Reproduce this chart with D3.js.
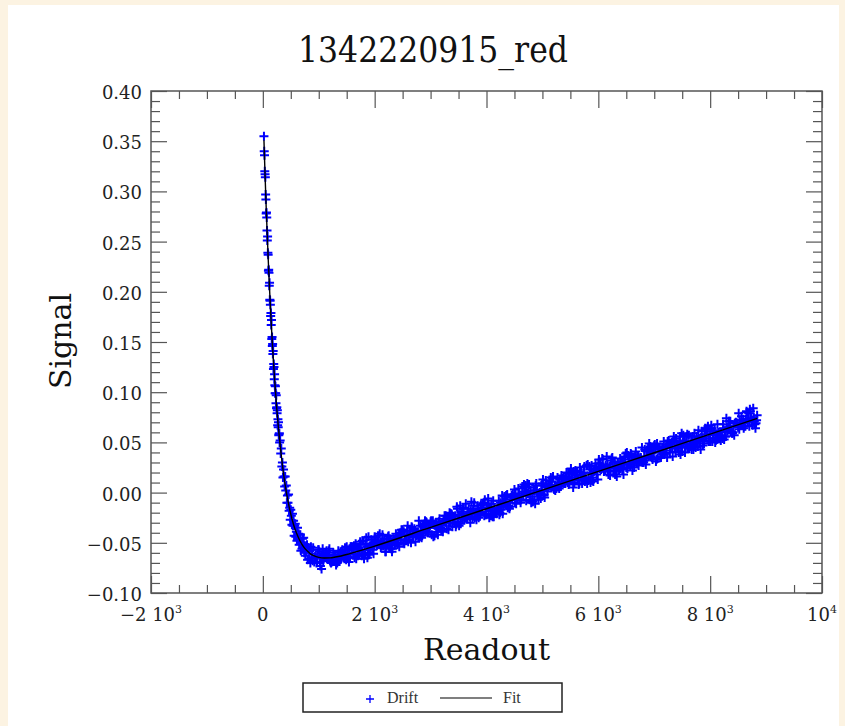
<!DOCTYPE html>
<html>
<head>
<meta charset="utf-8">
<script src="https://cdn.jsdelivr.net/npm/d3@7"></script>
<style>
  body { margin: 0; background: #fcf3e2; }
  svg { display: block; }
</style>
</head>
<body>
<svg id="chart" width="845" height="726"></svg>
<script>
// Drift measurements: readout number and signal
const readout = [
  20,25,30,35,40,45,50,55,60,65,
  70,75,80,85,90,95,100,105,110,115,
  120,125,130,135,140,145,150,155,160,165,
  170,175,180,185,190,195,200,205,210,215,
  220,225,230,235,240,245,250,255,260,265,
  270,275,280,285,290,295,300,
  310,320,330,340,350,360,370,380,390,400,
  410,420,430,440,450,460,470,480,490,500,
  510,520,530,540,550,560,570,580,590,600,
  610,620,630,640,650,660,670,680,690,700,
  710,720,730,740,750,760,770,780,790,800,
  810,820,830,840,850,860,870,880,890,900,
  920,940,960,980,1000,1020,1040,1060,1080,1100,
  1120,1140,1160,1180,1200,1220,1240,1260,1280,1300,
  1320,1340,1360,1380,1400,1420,1440,1460,1480,1500,
  1520,1540,1560,1580,1600,1620,1640,1660,1680,1700,
  1720,1740,1760,1780,1800,1820,1840,1860,1880,1900,
  1920,1940,1960,1980,2000,2020,2040,2060,2080,2100,
  2120,2140,2160,2180,2200,2220,2240,2260,2280,2300,
  2320,2340,2360,2380,2400,2420,2440,2460,2480,2500,
  2520,2540,2560,2580,2600,2620,2640,2660,2680,2700,
  2720,2740,2760,2780,2800,2820,2840,2860,2880,2900,
  2920,2940,2960,2980,3000,3020,3040,3060,3080,3100,
  3120,3140,3160,3180,3200,3220,3240,3260,3280,3300,
  3320,3340,3360,3380,3400,3420,3440,3460,3480,3500,
  3520,3540,3560,3580,3600,3620,3640,3660,3680,3700,
  3720,3740,3760,3780,3800,3820,3840,3860,3880,3900,
  3920,3940,3960,3980,4000,4020,4040,4060,4080,4100,
  4120,4140,4160,4180,4200,4220,4240,4260,4280,4300,
  4320,4340,4360,4380,4400,4420,4440,4460,4480,4500,
  4520,4540,4560,4580,4600,4620,4640,4660,4680,4700,
  4720,4740,4760,4780,4800,4820,4840,4860,4880,4900,
  4920,4940,4960,4980,5000,5020,5040,5060,5080,5100,
  5120,5140,5160,5180,5200,5220,5240,5260,5280,5300,
  5320,5340,5360,5380,5400,5420,5440,5460,5480,5500,
  5520,5540,5560,5580,5600,5620,5640,5660,5680,5700,
  5720,5740,5760,5780,5800,5820,5840,5860,5880,5900,
  5920,5940,5960,5980,6000,6020,6040,6060,6080,6100,
  6120,6140,6160,6180,6200,6220,6240,6260,6280,6300,
  6320,6340,6360,6380,6400,6420,6440,6460,6480,6500,
  6520,6540,6560,6580,6600,6620,6640,6660,6680,6700,
  6720,6740,6760,6780,6800,6820,6840,6860,6880,6900,
  6920,6940,6960,6980,7000,7020,7040,7060,7080,7100,
  7120,7140,7160,7180,7200,7220,7240,7260,7280,7300,
  7320,7340,7360,7380,7400,7420,7440,7460,7480,7500,
  7520,7540,7560,7580,7600,7620,7640,7660,7680,7700,
  7720,7740,7760,7780,7800,7820,7840,7860,7880,7900,
  7920,7940,7960,7980,8000,8020,8040,8060,8080,8100,
  8120,8140,8160,8180,8200,8220,8240,8260,8280,8300,
  8320,8340,8360,8380,8400,8420,8440,8460,8480,8500,
  8520,8540,8560,8580,8600,8620,8640,8660,8680,8700,
  8720,8740,8760,8780,8800,8820,8840
];

const drift = [
  0.355,0.340,0.336,0.320,0.317,0.314,0.297,0.292,0.278,0.279,
  0.274,0.261,0.251,0.255,0.239,0.237,0.221,0.222,0.219,0.206,
  0.209,0.192,0.191,0.187,0.176,0.179,0.167,0.172,0.153,0.155,
  0.146,0.148,0.138,0.141,0.123,0.128,0.125,0.113,0.118,0.107,
  0.099,0.106,0.099,0.089,0.097,0.084,0.085,0.079,0.082,0.067,
  0.073,0.065,0.070,0.057,0.058,0.059,0.050,
  0.052,0.039,0.044,0.026,0.030,0.015,0.023,0.016,0.006,0.016,
  0.002,0.007,-0.010,-0.003,-0.010,-0.002,-0.018,-0.015,-0.027,-0.017,
  -0.023,-0.032,-0.021,-0.033,-0.028,-0.043,-0.033,-0.031,-0.044,-0.039,
  -0.048,-0.035,-0.046,-0.041,-0.052,-0.045,-0.042,-0.058,-0.050,-0.056,
  -0.046,-0.055,-0.045,-0.060,-0.053,-0.063,-0.055,-0.058,-0.052,-0.067,
  -0.055,-0.055,-0.066,-0.058,-0.070,-0.054,-0.065,-0.061,-0.068,-0.055,
  -0.069,-0.064,-0.070,-0.063,-0.057,-0.070,-0.064,-0.065,-0.068,-0.065,
  -0.060,-0.058,-0.062,-0.058,-0.068,-0.070,-0.068,-0.060,-0.066,-0.063,
  -0.069,-0.063,-0.066,-0.066,-0.066,-0.057,-0.065,-0.066,-0.058,-0.054,
  -0.060,-0.069,-0.065,-0.054,-0.054,-0.061,-0.065,-0.051,-0.055,-0.063,
  -0.055,-0.049,-0.058,-0.048,-0.048,-0.057,-0.051,-0.054,-0.060,-0.062,
  -0.053,-0.047,-0.057,-0.061,-0.044,-0.048,-0.053,-0.043,-0.052,-0.051,
  -0.049,-0.042,-0.053,-0.051,-0.059,-0.046,-0.044,-0.055,-0.047,-0.050,
  -0.056,-0.046,-0.052,-0.041,-0.045,-0.050,-0.054,-0.040,-0.037,-0.037,
  -0.039,-0.042,-0.048,-0.038,-0.049,-0.043,-0.041,-0.034,-0.044,-0.038,
  -0.041,-0.040,-0.042,-0.044,-0.043,-0.033,-0.045,-0.034,-0.032,-0.028,
  -0.029,-0.039,-0.040,-0.035,-0.029,-0.042,-0.028,-0.032,-0.032,-0.039,
  -0.034,-0.036,-0.026,-0.035,-0.033,-0.039,-0.028,-0.028,-0.030,-0.025,
  -0.037,-0.020,-0.030,-0.022,-0.026,-0.026,-0.023,-0.032,-0.016,-0.022,
  -0.022,-0.031,-0.021,-0.016,-0.026,-0.025,-0.023,-0.026,-0.016,-0.024,
  -0.018,-0.021,-0.018,-0.010,-0.021,-0.027,-0.013,-0.025,-0.022,-0.012,
  -0.019,-0.011,-0.023,-0.022,-0.022,-0.012,-0.016,-0.014,-0.023,-0.018,
  -0.008,-0.015,-0.019,-0.021,-0.016,-0.008,-0.020,-0.017,-0.003,-0.013,
  -0.004,-0.009,-0.013,-0.015,-0.013,-0.014,-0.005,-0.005,-0.004,0.003,
  -0.002,-0.005,-0.005,-0.001,-0.007,-0.007,0.006,-0.003,0.005,0.007,
  0.000,-0.001,0.008,-0.002,-0.010,-0.004,0.005,-0.007,0.007,0.002,
  -0.001,-0.001,-0.003,0.007,0.009,-0.003,-0.005,0.012,0.008,0.005,
  0.007,0.007,0.006,0.014,0.004,0.005,0.006,0.006,0.010,0.004,
  0.006,0.017,0.010,0.016,0.013,0.014,0.012,0.019,0.009,0.012,
  0.012,0.019,0.021,0.017,0.018,0.020,0.012,0.009,0.017,0.017,
  0.012,0.020,0.011,0.013,0.009,0.012,0.026,0.010,0.027,0.015,
  0.021,0.023,0.024,0.022,0.029,0.024,0.026,0.026,0.033,0.021,
  0.023,0.025,0.028,0.018,0.025,0.026,0.034,0.030,0.022,0.018,
  0.025,0.027,0.026,0.025,0.024,0.030,0.030,0.028,0.035,0.025,
  0.024,0.028,0.029,0.039,0.030,0.035,0.025,0.037,0.030,0.037,
  0.027,0.032,0.035,0.045,0.031,0.036,0.032,0.034,0.042,0.037,
  0.043,0.036,0.039,0.041,0.047,0.045,0.033,0.034,0.044,0.045,
  0.035,0.045,0.042,0.038,0.045,0.046,0.051,0.052,0.040,0.049,
  0.045,0.052,0.052,0.041,0.048,0.044,0.040,0.056,0.045,0.041,
  0.057,0.052,0.046,0.056,0.045,0.057,0.046,0.051,0.049,0.043,
  0.059,0.045,0.056,0.046,0.054,0.051,0.055,0.053,0.052,0.058,
  0.061,0.063,0.066,0.054,0.059,0.067,0.051,0.057,0.062,0.052,
  0.053,0.055,0.055,0.060,0.060,0.054,0.064,0.061,0.056,0.065,
  0.063,0.071,0.071,0.061,0.059,0.066,0.069,0.070,0.069,0.065,
  0.063,0.067,0.076,0.069,0.064,0.070,0.073,0.080,0.073,0.066,
  0.081,0.072,0.067,0.075,0.068,0.069,0.077
];

// Interleaved readouts (odd tens) after the minimum
const readoutB = [
  930,950,970,990,1010,1030,1050,1070,1090,1110,
  1130,1150,1170,1190,1210,1230,1250,1270,1290,1310,
  1330,1350,1370,1390,1410,1430,1450,1470,1490,1510,
  1530,1550,1570,1590,1610,1630,1650,1670,1690,1710,
  1730,1750,1770,1790,1810,1830,1850,1870,1890,1910,
  1930,1950,1970,1990,2010,2030,2050,2070,2090,2110,
  2130,2150,2170,2190,2210,2230,2250,2270,2290,2310,
  2330,2350,2370,2390,2410,2430,2450,2470,2490,2510,
  2530,2550,2570,2590,2610,2630,2650,2670,2690,2710,
  2730,2750,2770,2790,2810,2830,2850,2870,2890,2910,
  2930,2950,2970,2990,3010,3030,3050,3070,3090,3110,
  3130,3150,3170,3190,3210,3230,3250,3270,3290,3310,
  3330,3350,3370,3390,3410,3430,3450,3470,3490,3510,
  3530,3550,3570,3590,3610,3630,3650,3670,3690,3710,
  3730,3750,3770,3790,3810,3830,3850,3870,3890,3910,
  3930,3950,3970,3990,4010,4030,4050,4070,4090,4110,
  4130,4150,4170,4190,4210,4230,4250,4270,4290,4310,
  4330,4350,4370,4390,4410,4430,4450,4470,4490,4510,
  4530,4550,4570,4590,4610,4630,4650,4670,4690,4710,
  4730,4750,4770,4790,4810,4830,4850,4870,4890,4910,
  4930,4950,4970,4990,5010,5030,5050,5070,5090,5110,
  5130,5150,5170,5190,5210,5230,5250,5270,5290,5310,
  5330,5350,5370,5390,5410,5430,5450,5470,5490,5510,
  5530,5550,5570,5590,5610,5630,5650,5670,5690,5710,
  5730,5750,5770,5790,5810,5830,5850,5870,5890,5910,
  5930,5950,5970,5990,6010,6030,6050,6070,6090,6110,
  6130,6150,6170,6190,6210,6230,6250,6270,6290,6310,
  6330,6350,6370,6390,6410,6430,6450,6470,6490,6510,
  6530,6550,6570,6590,6610,6630,6650,6670,6690,6710,
  6730,6750,6770,6790,6810,6830,6850,6870,6890,6910,
  6930,6950,6970,6990,7010,7030,7050,7070,7090,7110,
  7130,7150,7170,7190,7210,7230,7250,7270,7290,7310,
  7330,7350,7370,7390,7410,7430,7450,7470,7490,7510,
  7530,7550,7570,7590,7610,7630,7650,7670,7690,7710,
  7730,7750,7770,7790,7810,7830,7850,7870,7890,7910,
  7930,7950,7970,7990,8010,8030,8050,8070,8090,8110,
  8130,8150,8170,8190,8210,8230,8250,8270,8290,8310,
  8330,8350,8370,8390,8410,8430,8450,8470,8490,8510,
  8530,8550,8570,8590,8610,8630,8650,8670,8690,8710,
  8730,8750,8770,8790,8810,8830
];

const driftB = [
  -0.064,-0.065,-0.069,-0.057,-0.059,-0.073,-0.076,-0.056,-0.061,-0.065,
  -0.063,-0.063,-0.065,-0.056,-0.069,-0.069,-0.067,-0.066,-0.062,-0.072,
  -0.070,-0.058,-0.065,-0.059,-0.062,-0.060,-0.063,-0.055,-0.067,-0.065,
  -0.064,-0.056,-0.054,-0.057,-0.055,-0.053,-0.062,-0.066,-0.056,-0.056,
  -0.062,-0.052,-0.063,-0.061,-0.066,-0.062,-0.045,-0.065,-0.044,-0.061,
  -0.055,-0.052,-0.050,-0.053,-0.045,-0.051,-0.048,-0.048,-0.041,-0.055,
  -0.053,-0.051,-0.046,-0.059,-0.053,-0.051,-0.043,-0.046,-0.056,-0.059,
  -0.049,-0.047,-0.048,-0.050,-0.052,-0.043,-0.043,-0.047,-0.038,-0.050,
  -0.051,-0.047,-0.047,-0.033,-0.044,-0.038,-0.050,-0.035,-0.044,-0.036,
  -0.049,-0.043,-0.039,-0.028,-0.044,-0.038,-0.043,-0.041,-0.031,-0.038,
  -0.030,-0.040,-0.035,-0.033,-0.028,-0.029,-0.044,-0.043,-0.030,-0.030,
  -0.042,-0.029,-0.035,-0.038,-0.030,-0.029,-0.023,-0.023,-0.036,-0.024,
  -0.030,-0.021,-0.021,-0.034,-0.024,-0.030,-0.034,-0.014,-0.029,-0.033,
  -0.013,-0.019,-0.027,-0.015,-0.026,-0.011,-0.026,-0.019,-0.021,-0.030,
  -0.009,-0.026,-0.013,-0.025,-0.019,-0.022,-0.016,-0.020,-0.021,-0.015,
  -0.012,-0.010,-0.007,-0.021,-0.015,-0.006,-0.025,-0.018,-0.011,-0.024,
  -0.024,-0.020,-0.020,-0.016,-0.015,-0.022,-0.010,-0.014,-0.021,-0.009,
  -0.011,-0.003,-0.002,-0.014,-0.016,-0.007,-0.003,-0.002,-0.004,-0.010,
  -0.011,-0.007,0.004,-0.004,-0.010,-0.003,0.001,0.008,0.000,-0.008,
  0.009,-0.001,-0.007,0.002,-0.009,-0.009,0.002,-0.011,0.009,-0.001,
  -0.007,0.000,-0.006,0.002,0.013,-0.002,0.006,0.005,0.001,0.006,
  0.012,0.015,0.011,0.016,0.003,0.002,0.004,0.015,0.007,0.013,
  0.006,0.014,0.010,0.009,0.009,0.020,0.010,0.008,0.019,0.024,
  0.015,0.005,0.010,0.022,0.021,0.013,0.008,0.025,0.020,0.009,
  0.019,0.026,0.014,0.027,0.028,0.015,0.023,0.020,0.012,0.011,
  0.023,0.029,0.018,0.013,0.033,0.029,0.023,0.034,0.024,0.024,
  0.027,0.036,0.021,0.024,0.017,0.032,0.035,0.021,0.031,0.025,
  0.016,0.030,0.022,0.034,0.031,0.023,0.018,0.036,0.039,0.040,
  0.037,0.033,0.026,0.038,0.022,0.030,0.032,0.041,0.029,0.036,
  0.033,0.035,0.031,0.030,0.030,0.043,0.028,0.041,0.044,0.049,
  0.046,0.035,0.033,0.040,0.048,0.031,0.049,0.045,0.043,0.036,
  0.040,0.038,0.051,0.039,0.042,0.035,0.048,0.049,0.045,0.050,
  0.036,0.056,0.044,0.054,0.046,0.047,0.051,0.038,0.059,0.050,
  0.051,0.040,0.051,0.058,0.044,0.044,0.047,0.043,0.056,0.046,
  0.052,0.049,0.053,0.062,0.052,0.043,0.061,0.047,0.049,0.064,
  0.056,0.064,0.051,0.051,0.051,0.064,0.058,0.061,0.050,0.055,
  0.068,0.060,0.054,0.052,0.057,0.068,0.053,0.056,0.074,0.061,
  0.071,0.066,0.060,0.059,0.060,0.057,0.069,0.069,0.069,0.079,
  0.072,0.069,0.069,0.073,0.066,0.066,0.081,0.071,0.079,0.083,
  0.074,0.072,0.084,0.071,0.064,0.072
];

// Fitted drift model, sampled along the readout axis
const fitReadout = [20,40,60,80,100,125,150,175,200,225,250,275,300,330,360,400,450,500,550,600,
  650,700,750,800,850,900,1000,1100,1200,1300,1400,1500,1600,1800,2000,3000,4000,5000,6000,7000,8000,8840];
const fitSignal = [0.351,0.316,0.284,0.255,0.228,0.197,0.169,0.144,0.122,0.1015,0.083,0.067,0.0525,0.037,0.023,
  0.0075,-0.0085,-0.0215,-0.032,-0.040,-0.0464,-0.0515,-0.0555,-0.0585,-0.061,-0.0625,-0.0645,-0.0651,-0.065,
  -0.0642,-0.0631,-0.0617,-0.0601,-0.0568,-0.0533,-0.0347,-0.0161,0.0025,0.0211,0.0397,0.0583,0.0739];

// Axis ticks and their labels
const xMajor = [-2000, 0, 2000, 4000, 6000, 8000, 10000];
const xLabelBase = ["\u22122 10", "0", "2 10", "4 10", "6 10", "8 10", "10"];
const xLabelExp = ["3", "", "3", "3", "3", "3", "4"];
const yMajor = [-0.10, -0.05, 0.00, 0.05, 0.10, 0.15, 0.20, 0.25, 0.30, 0.35, 0.40];
const yLabels = ["\u22120.10", "\u22120.05", "0.00", "0.05", "0.10", "0.15", "0.20", "0.25", "0.30", "0.35", "0.40"];

const titleText = "1342220915_red";
const xTitle = "Readout";
const yTitle = "Signal";
const legendNames = ["Drift", "Fit"];

const W = 845, H = 726;
const plot = { left: 151, right: 822, top: 91, bottom: 593 };
const serif = "'DejaVu Serif', serif";
const axisColor = "#555";
const pointColor = "#0000ff";

const svg = d3.select("#chart");

svg.append("rect").attr("width", W).attr("height", H).attr("fill", "#fcf3e2");
svg.append("rect").attr("x", 8).attr("y", 5).attr("width", 831).attr("height", H - 5).attr("fill", "#ffffff");

const x = d3.scaleLinear().domain([-2000, 10000]).range([plot.left, plot.right]);
const y = d3.scaleLinear().domain([-0.10, 0.40]).range([plot.bottom, plot.top]);

const xMinor = d3.range(-2000, 10001, 500).filter(v => !xMajor.includes(v));
const yMinor = d3.range(-10, 41, 1).map(v => v / 100).filter(v => Math.round(v * 1000) % 50 !== 0);

function styleAxis(g) {
  g.select(".domain").remove();
  g.selectAll(".tick line").attr("stroke", axisColor).attr("stroke-width", 1.2);
  g.selectAll(".tick text").remove();
}

// inward-pointing ticks on all four sides
[[xMajor, 17], [xMinor, 8]].forEach(([vals, len]) => {
  svg.append("g").attr("transform", `translate(0,${plot.bottom})`)
    .call(d3.axisBottom(x).tickValues(vals).tickSize(-len)).call(styleAxis);
  svg.append("g").attr("transform", `translate(0,${plot.top})`)
    .call(d3.axisTop(x).tickValues(vals).tickSize(-len)).call(styleAxis);
});
[[yMajor, 16], [yMinor, 9]].forEach(([vals, len]) => {
  svg.append("g").attr("transform", `translate(${plot.left},0)`)
    .call(d3.axisLeft(y).tickValues(vals).tickSize(-len)).call(styleAxis);
  svg.append("g").attr("transform", `translate(${plot.right},0)`)
    .call(d3.axisRight(y).tickValues(vals).tickSize(-len)).call(styleAxis);
});

svg.append("rect")
  .attr("x", plot.left).attr("y", plot.top)
  .attr("width", plot.right - plot.left).attr("height", plot.bottom - plot.top)
  .attr("fill", "none").attr("stroke", axisColor).attr("stroke-width", 1.5);

// tick labels
const xl = svg.append("g").attr("font-family", serif).attr("font-size", 18).attr("fill", "#222");
xMajor.forEach((v, i) => {
  const t = xl.append("text").attr("x", x(v)).attr("y", 621).attr("text-anchor", "middle");
  t.append("tspan").text(xLabelBase[i]);
  if (xLabelExp[i]) t.append("tspan").attr("dy", -8).attr("font-size", 11).text(xLabelExp[i]);
});
const yl = svg.append("g").attr("font-family", serif).attr("font-size", 18).attr("fill", "#222");
yMajor.forEach((v, i) => {
  yl.append("text").attr("x", 142).attr("y", y(v) + 8).attr("text-anchor", "end").text(yLabels[i]);
});

// drift points as plus markers
const plus = "M-4.5,0H4.5M0,-4.5V4.5";
const points = d3.zip(readout, drift).concat(d3.zip(readoutB, driftB));
svg.append("g")
  .selectAll("path")
  .data(points)
  .join("path")
  .attr("d", plus)
  .attr("transform", d => `translate(${x(d[0])},${y(d[1])})`)
  .attr("fill", "none")
  .attr("stroke", pointColor)
  .attr("stroke-width", 2);

// fitted curve
const fitLine = d3.line().x(d => x(d[0])).y(d => y(d[1])).curve(d3.curveMonotoneX);
svg.append("path")
  .datum(d3.zip(fitReadout, fitSignal))
  .attr("d", fitLine)
  .attr("fill", "none")
  .attr("stroke", "#000")
  .attr("stroke-width", 1.4);

// titles
svg.append("text")
  .attr("x", 433).attr("y", 62)
  .attr("text-anchor", "middle")
  .attr("font-family", "'DejaVu Serif Condensed', 'DejaVu Serif', serif")
  .attr("font-stretch", "condensed")
  .attr("font-size", 35)
  .attr("fill", "#111")
  .text(titleText);

svg.append("text")
  .attr("x", (plot.left + plot.right) / 2).attr("y", 660)
  .attr("text-anchor", "middle")
  .attr("font-family", serif).attr("font-size", 30).attr("fill", "#111")
  .text(xTitle);

svg.append("text")
  .attr("transform", `translate(71,341) rotate(-90)`)
  .attr("text-anchor", "middle")
  .attr("font-family", serif).attr("font-size", 30).attr("fill", "#111")
  .text(yTitle);

// legend
const lg = svg.append("g");
lg.append("rect").attr("x", 303).attr("y", 683).attr("width", 259).attr("height", 29)
  .attr("fill", "#fff").attr("stroke", "#222").attr("stroke-width", 1.5);
lg.append("path").attr("d", "M-4,0H4M0,-4V4").attr("transform", "translate(370,699)")
  .attr("fill", "none").attr("stroke", pointColor).attr("stroke-width", 1.3);
lg.append("text").attr("x", 387).attr("y", 703).attr("font-family", "'Liberation Serif', serif")
  .attr("font-size", 16).attr("fill", "#333").text(legendNames[0]);
lg.append("line").attr("x1", 440).attr("x2", 492).attr("y1", 698).attr("y2", 698)
  .attr("stroke", "#000").attr("stroke-width", 1.2);
lg.append("text").attr("x", 503).attr("y", 703).attr("font-family", "'Liberation Serif', serif")
  .attr("font-size", 16).attr("fill", "#333").text(legendNames[1]);
</script>
</body>
</html>
